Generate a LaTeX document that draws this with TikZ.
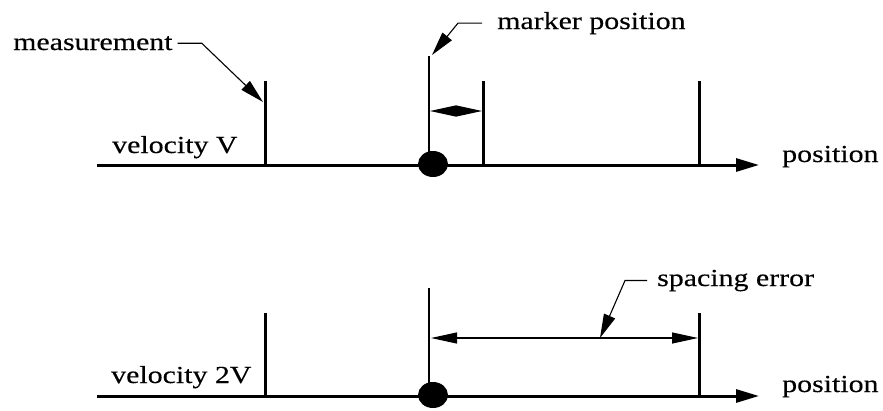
\documentclass[tikz,border=0pt]{standalone}
\usepackage{fontspec}
\setmainfont{Liberation Serif}[FakeStretch=1.22,FakeBold=0.3]
\usetikzlibrary{arrows.meta}
\begin{document}
\begin{tikzpicture}[x=1pt,y=-1pt,
  axisline/.style={line width=3pt, -{Triangle[length=23pt,width=13pt]}},
  tickline/.style={line width=3pt},
  markline/.style={line width=1.1pt},
  leader/.style={line width=1.1pt, -{Triangle[length=24pt,width=12pt]}},
  dimline/.style={line width=1.1pt,
    {Triangle[length=26pt,width=11pt]}-{Triangle[length=26pt,width=11pt]}},
  lbl/.style={inner sep=0pt, anchor=base west, font=\fontsize{24.5}{28}\selectfont},
  markerdot/.style={fill=black}
]
\useasboundingbox[fill=white] (0,0) rectangle (883,410);

% ---- upper trace: velocity V ----
\coordinate (a1s) at (97,165);
\coordinate (a1e) at (759,165);
\draw[axisline] (a1s) -- (a1e);
\draw[tickline] (265,81) coordinate (t1) -- (265,165);
\draw[tickline] (483,81) coordinate (t2) -- (483,165);
\draw[tickline] (699,81) coordinate (t3) -- (699,165);
\draw[markline] (429,56) coordinate (m1) -- (429,164);
\fill[markerdot] (433,164) ellipse [x radius=15pt, y radius=13pt];
\coordinate (d1a) at (430,111);
\coordinate (d1b) at (482,111);
\draw[dimline] (d1a) -- (d1b);

\node[lbl] (meas) at (13,50) {measurement};
\node[lbl] (vel1) at (112,153) {velocity V};
\node[lbl] (mpos) at (497,29) {marker position};
\node[lbl] (pos1) at (782,162) {position};

\coordinate (measTip) at (263,102);
\draw[leader] ([xshift=5pt]meas.east) -- ++(24,0) -- (measTip);
\coordinate (markTip) at (432,55);
\draw[leader] ([xshift=-15pt]mpos.west) -- ++(-24,0) -- (markTip);

% ---- lower trace: velocity 2V ----
\coordinate (a2s) at (97,396);
\coordinate (a2e) at (759,396);
\draw[axisline] (a2s) -- (a2e);
\draw[tickline] (265,313) -- (265,396);
\draw[tickline] (699,313) -- (699,396);
\draw[markline] (429,288) -- (429,395);
\fill[markerdot] (433,395) ellipse [x radius=15pt, y radius=13pt];
\coordinate (d2a) at (431,338);
\coordinate (d2b) at (698,338);
\draw[dimline] (d2a) -- (d2b);

\node[lbl] (vel2) at (111,383) {velocity 2V};
\node[lbl] (pos2) at (782,392) {position};
\node[lbl] (serr) at (657,286) {spacing error};

\coordinate (spTip) at (600,338);
\draw[leader] ([xshift=-10pt]serr.west) -- ++(-22,0) -- (spTip);
\end{tikzpicture}
\end{document}
